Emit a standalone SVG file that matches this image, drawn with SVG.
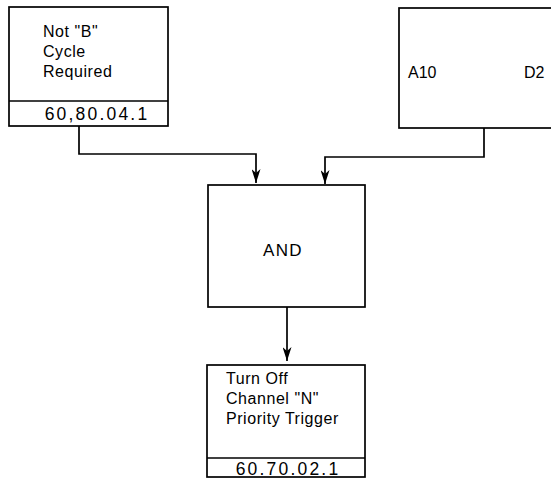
<svg xmlns="http://www.w3.org/2000/svg" width="551" height="487" viewBox="0 0 551 487">
<style>
.box{fill:#fff;stroke:#000;stroke-width:1.7}
.ln{fill:none;stroke:#000;stroke-width:1.7}
.t{font-family:"Liberation Sans",Arial,sans-serif;font-size:16px;letter-spacing:0.55px;fill:#000}
.n{font-family:"Liberation Sans",Arial,sans-serif;font-size:17.5px;letter-spacing:2.2px;fill:#000;text-anchor:middle}
</style>
<defs>
<marker id="arr" viewBox="0 0 14 9" markerWidth="14" markerHeight="9" refX="14" refY="4.5" orient="auto" markerUnits="userSpaceOnUse">
<path d="M0,0 L14,4.5 L0,9 L4,4.5 Z" fill="#000"/>
</marker>
</defs>
<g id="connectors">
<path class="ln" d="M79,126 V154 H256 V183" marker-end="url(#arr)"/>
<path class="ln" d="M484,128 V157 H325 V184" marker-end="url(#arr)"/>
<path class="ln" d="M287,307 V361" marker-end="url(#arr)"/>
</g>
<g id="n1">
<rect class="box" x="9" y="7" width="159" height="119"/>
<line class="ln" x1="9" y1="101" x2="168" y2="101"/>
<text class="t" x="43" y="37">Not "B"</text>
<text class="t" x="43" y="57">Cycle</text>
<text class="t" x="43" y="77">Required</text>
<text class="n" x="97" y="120">60,80.04.1</text>
</g>
<g id="n2">
<rect class="box" x="399" y="8" width="160" height="120"/>
<text class="t" x="408" y="78" style="letter-spacing:0">A10</text>
<text class="t" x="524" y="78" style="letter-spacing:0">D2</text>
</g>
<g id="n3">
<rect class="box" x="208" y="185" width="157" height="122"/>
<text class="n" x="283" y="256" style="font-size:17px;letter-spacing:1.3px">AND</text>
</g>
<g id="n4">
<rect class="box" x="207" y="365" width="158" height="112"/>
<line class="ln" x1="207" y1="458" x2="365" y2="458"/>
<text class="t" x="226" y="384">Turn Off</text>
<text class="t" x="226" y="404">Channel "N"</text>
<text class="t" x="226" y="424">Priority Trigger</text>
<text class="n" x="288" y="475">60.70.02.1</text>
</g>
</svg>
